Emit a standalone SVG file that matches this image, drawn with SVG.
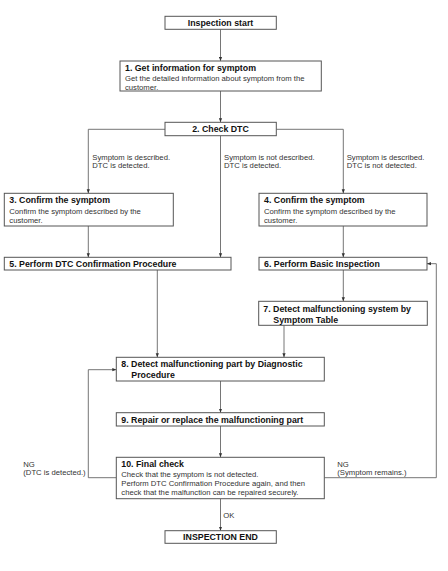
<svg xmlns="http://www.w3.org/2000/svg" width="448" height="571" viewBox="0 0 448 571">
<style>
.box{fill:#fff;stroke:#555;stroke-width:1}
.ln{fill:none;stroke:#666;stroke-width:0.9}
.t{font-family:"Liberation Sans",Arial,sans-serif;font-weight:bold;font-size:8.8px;fill:#111}
.s{font-family:"Liberation Sans",Arial,sans-serif;font-size:7.7px;fill:#333}
.c{text-anchor:middle}
</style>
<defs>
<marker id="ah" markerUnits="userSpaceOnUse" markerWidth="4" markerHeight="4" viewBox="0 0 4 4" refX="4" refY="2" orient="auto">
<path d="M0,0.4 L4,2 L0,3.6 Z" fill="#333"/>
</marker>
</defs>
<rect width="448" height="571" fill="#fff"/>
<g id="connectors">
<path class="ln" d="M220.5,29.3 V61" marker-end="url(#ah)"/>
<path class="ln" d="M220.5,91 V122.3" marker-end="url(#ah)"/>
<path class="ln" d="M165,129.3 H88.3 V193.3" marker-end="url(#ah)"/>
<path class="ln" d="M276.3,129.3 H343.3 V193.3" marker-end="url(#ah)"/>
<path class="ln" d="M220.5,135.7 V257.3" marker-end="url(#ah)"/>
<path class="ln" d="M88.3,226 V257.3" marker-end="url(#ah)"/>
<path class="ln" d="M343.3,226 V257.3" marker-end="url(#ah)"/>
<path class="ln" d="M157.3,270 V357.3" marker-end="url(#ah)"/>
<path class="ln" d="M343.3,270 V301.3" marker-end="url(#ah)"/>
<path class="ln" d="M284,325.3 V357.3" marker-end="url(#ah)"/>
<path class="ln" d="M220.5,381 V412.7" marker-end="url(#ah)"/>
<path class="ln" d="M220.5,426 V457.3" marker-end="url(#ah)"/>
<path class="ln" d="M220.5,498.7 V530.7" marker-end="url(#ah)"/>
<path class="ln" d="M116.3,477.7 H88.3 V369.7 H116.3" marker-end="url(#ah)"/>
<path class="ln" d="M324.3,477.7 H436.3 V263.7 H427" marker-end="url(#ah)"/>
<text class="s" x="92.3" y="159.5">Symptom is described.</text>
<text class="s" x="92.3" y="168">DTC is detected.</text>
<text class="s" x="224" y="159.5">Symptom is not described.</text>
<text class="s" x="224" y="168">DTC is detected.</text>
<text class="s" x="346.7" y="159.5">Symptom is described.</text>
<text class="s" x="346.7" y="168">DTC is not detected.</text>
<text class="s" x="23.3" y="466.5">NG</text>
<text class="s" x="23.3" y="475.1">(DTC is detected.)</text>
<text class="s" x="337.3" y="466.5">NG</text>
<text class="s" x="337.3" y="475.1">(Symptom remains.)</text>
<text class="s" x="223.3" y="517.5">OK</text>
</g>
<g id="start">
<rect class="box" x="165" y="16.3" width="111.3" height="13"/>
<text class="t c" x="220.5" y="26.2">Inspection start</text>
</g>
<g id="step1">
<rect class="box" x="120" y="61" width="201.3" height="30"/>
<text class="t" x="125" y="71">1. Get information for symptom</text>
<text class="s" x="125" y="80.5">Get the detailed information about symptom from the</text>
<text class="s" x="125" y="89.5">customer.</text>
</g>
<g id="step2">
<rect class="box" x="165" y="122.3" width="111.3" height="13.4"/>
<text class="t c" x="220.5" y="132.2">2. Check DTC</text>
</g>
<g id="step3">
<rect class="box" x="4.3" y="193.3" width="169" height="32.7"/>
<text class="t" x="9.3" y="203.2">3. Confirm the symptom</text>
<text class="s" x="9.3" y="214.1">Confirm the symptom described by the</text>
<text class="s" x="9.3" y="223.1">customer.</text>
</g>
<g id="step4">
<rect class="box" x="259" y="193.3" width="168" height="32.7"/>
<text class="t" x="264" y="203.2">4. Confirm the symptom</text>
<text class="s" x="264" y="214.1">Confirm the symptom described by the</text>
<text class="s" x="264" y="223.1">customer.</text>
</g>
<g id="step5">
<rect class="box" x="4.3" y="257.3" width="226.7" height="12.7"/>
<text class="t" x="9.3" y="266.9">5. Perform DTC Confirmation Procedure</text>
</g>
<g id="step6">
<rect class="box" x="259" y="257.3" width="168" height="12.7"/>
<text class="t" x="264" y="266.9">6. Perform Basic Inspection</text>
</g>
<g id="step7">
<rect class="box" x="258.7" y="301.3" width="168.6" height="24"/>
<text class="t" x="263.3" y="312.2">7. Detect malfunctioning system by</text>
<text class="t" x="273.3" y="322.5">Symptom Table</text>
</g>
<g id="step8">
<rect class="box" x="116.3" y="357.3" width="208" height="23.7"/>
<text class="t" x="121.3" y="367.2">8. Detect malfunctioning part by Diagnostic</text>
<text class="t" x="131.3" y="378.2">Procedure</text>
</g>
<g id="step9">
<rect class="box" x="116.3" y="412.7" width="208" height="13.3"/>
<text class="t" x="121.3" y="422.5">9. Repair or replace the malfunctioning part</text>
</g>
<g id="step10">
<rect class="box" x="116.3" y="457.3" width="208" height="41.4"/>
<text class="t" x="121.3" y="466.9">10. Final check</text>
<text class="s" x="121.3" y="476.5">Check that the symptom is not detected.</text>
<text class="s" x="121.3" y="485.8">Perform DTC Confirmation Procedure again, and then</text>
<text class="s" x="121.3" y="494.5">check that the malfunction can be repaired securely.</text>
</g>
<g id="end">
<rect class="box" x="165" y="530.7" width="111.3" height="12.6"/>
<text class="t c" x="220.5" y="540.2">INSPECTION END</text>
</g>
</svg>
